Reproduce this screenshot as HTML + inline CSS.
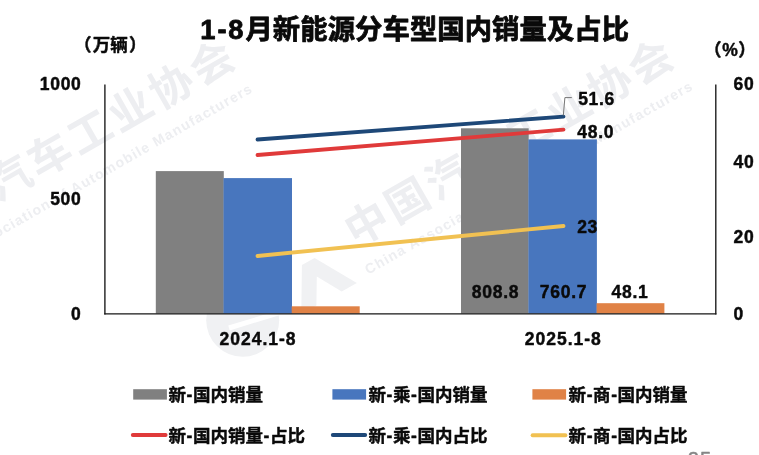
<!DOCTYPE html>
<html lang="zh-CN">
<head>
<meta charset="utf-8">
<title>1-8月新能源分车型国内销量及占比</title>
<style>
html,body{margin:0;padding:0;background:#fff;}
body{width:759px;height:455px;overflow:hidden;position:relative;}
svg{display:block;position:absolute;left:0;top:0;}
text{font-family:"Liberation Sans","Noto Sans CJK SC",sans-serif;font-weight:bold;fill:#0a0a0a;stroke:#0a0a0a;stroke-width:0.45px;stroke-linejoin:round;}
.n{font-size:17.5px;letter-spacing:0.7px;}
.c{font-size:17.5px;}
.wm text{fill:#edeef1;stroke:none;}
.wm .zh{font-size:43px;letter-spacing:3.6px;font-weight:700;}
.wm .en{font-size:14px;}
</style>
</head>
<body>
<svg width="759" height="455" viewBox="0 0 759 455">
  <rect width="759" height="455" fill="#fff"/>
  <!-- watermarks -->
  <g class="wm">
    <g transform="translate(-72.3,223.6) rotate(-29.7)">
      <text class="zh" x="-21.5" y="16.3">中国汽车工业协会</text>
      <text class="en" x="-26.3" y="46.7" textLength="374" lengthAdjust="spacing">China Association of Automobile Manufacturers</text>
    </g>
    <g transform="translate(366.4,222.7) rotate(-29.7)">
      <text class="zh" x="-21.5" y="16.3">中国汽车工业协会</text>
      <text class="en" x="-24.1" y="46.1" textLength="374" lengthAdjust="spacing">China Association of Automobile Manufacturers</text>
    </g>
  </g>
  <polygon points="301.9,265.0 314.6,257.9 356.8,283.0 341.7,291.4 316.8,276.6 316.4,305.6 301.3,314.1" fill="#f0f1f3"/>
  <circle cx="242.7" cy="320.3" r="36.5" fill="#f0f1f3"/>
  <line x1="229" y1="328" x2="282" y2="311.8" stroke="#fff" stroke-width="5"/>
  <!-- title -->
  <text x="200.3" y="38.8" font-size="27.3" style="stroke-width:0.8px;letter-spacing:0.11px"><tspan style="letter-spacing:1.9px">1-8</tspan>月新能源分车型国内销量及占比</text>
  <text class="c" x="74 92.8 110.3 129.1" y="51">（万辆）</text>
  <text class="c" x="704 722.3 738.3" y="56">（%）</text>
  <!-- bars -->
  <rect x="155.8" y="171.1" width="68" height="142.5" fill="#808080"/>
  <rect x="223.5" y="178.1" width="68.5" height="135.5" fill="#4876be"/>
  <rect x="291.7" y="306.3" width="68" height="7.3" fill="#e08246"/>
  <rect x="461" y="128.3" width="67.7" height="185.3" fill="#808080"/>
  <rect x="528.4" y="139.4" width="68.5" height="174.2" fill="#4876be"/>
  <rect x="596.6" y="303.2" width="67.8" height="10.4" fill="#e08246"/>
  <!-- axes -->
  <line x1="104.9" y1="84.5" x2="104.9" y2="314.4" stroke="#161616" stroke-width="1.35"/>
  <line x1="715.8" y1="84.5" x2="715.8" y2="314.4" stroke="#161616" stroke-width="1.35"/>
  <line x1="104.3" y1="313.8" x2="716.4" y2="313.8" stroke="#161616" stroke-width="1.35"/>
  <!-- lines -->
  <line x1="257.5" y1="139.5" x2="563.5" y2="116.6" stroke="#1e4878" stroke-width="3.8" stroke-linecap="round"/>
  <line x1="257.5" y1="155" x2="563.5" y2="129.7" stroke="#e03a3a" stroke-width="3.8" stroke-linecap="round"/>
  <line x1="257.5" y1="256" x2="563.5" y2="226" stroke="#f1c152" stroke-width="3.8" stroke-linecap="round"/>
  <polyline points="563.3,115.6 564.9,97.6 571.8,97.6" fill="none" stroke="#666" stroke-width="0.9"/>
  <!-- axis labels -->
  <text class="n" x="81.5" y="89.9" text-anchor="end">1000</text>
  <text class="n" x="81.5" y="204.7" text-anchor="end">500</text>
  <text class="n" x="81.5" y="320.1" text-anchor="end">0</text>
  <text class="n" x="733.5" y="89.6">60</text>
  <text class="n" x="733.5" y="167.5">40</text>
  <text class="n" x="733.5" y="243">20</text>
  <text class="n" x="733.5" y="320.4">0</text>
  <text class="n" x="258" y="345" text-anchor="middle" style="letter-spacing:1px">2024.1-8</text>
  <text class="n" x="563.3" y="345" text-anchor="middle" style="letter-spacing:1px">2025.1-8</text>
  <!-- data labels -->
  <text class="n" x="578.2" y="105.2">51.6</text>
  <text class="n" x="577.3" y="138.4">48.0</text>
  <text class="n" x="577.2" y="233">23</text>
  <text class="n" x="495.5" y="297.8" text-anchor="middle">808.8</text>
  <text class="n" x="563.5" y="297.8" text-anchor="middle">760.7</text>
  <text class="n" x="630" y="297.8" text-anchor="middle">48.1</text>
  <!-- legend -->
  <rect x="133.2" y="389.2" width="33.7" height="10.4" fill="#808080"/>
  <text class="c" x="168.4 186.5 192.9 210.4 227.9 245.4" y="400.6">新-国内销量</text>
  <rect x="332.4" y="389.2" width="33.7" height="10.4" fill="#4876be"/>
  <text class="c" x="368.4 386.5 392.9 411.0 417.4 434.9 452.4 469.9" y="400.6">新-乘-国内销量</text>
  <rect x="532.4" y="389.2" width="33.7" height="10.4" fill="#e08246"/>
  <text class="c" x="568.6 586.7 593.1 611.2 617.6 635.1 652.6 670.1" y="400.6">新-商-国内销量</text>
  <line x1="132.8" y1="435" x2="165.6" y2="435" stroke="#e03a3a" stroke-width="3.9" stroke-linecap="round"/>
  <text class="c" x="168.4 186.5 192.9 210.4 227.9 245.4 263.5 269.9 287.4" y="441.5">新-国内销量-占比</text>
  <line x1="332.8" y1="435" x2="365.2" y2="435" stroke="#1e4878" stroke-width="3.9" stroke-linecap="round"/>
  <text class="c" x="368.4 386.5 392.9 411.0 417.4 434.9 452.4 469.9" y="441.5">新-乘-国内占比</text>
  <line x1="532.6" y1="435.2" x2="565.4" y2="435.2" stroke="#f1c152" stroke-width="3.9" stroke-linecap="round"/>
  <text class="c" x="568.6 586.7 593.1 611.2 617.6 635.1 652.6 670.1" y="441.5">新-商-国内占比</text>
  <!-- page number (cut off) -->
  <text x="687.8" y="466.4" font-size="20" style="font-weight:normal;fill:#858585;letter-spacing:1px;stroke:#858585;stroke-width:0.5px">25</text>
</svg>
</body>
</html>
